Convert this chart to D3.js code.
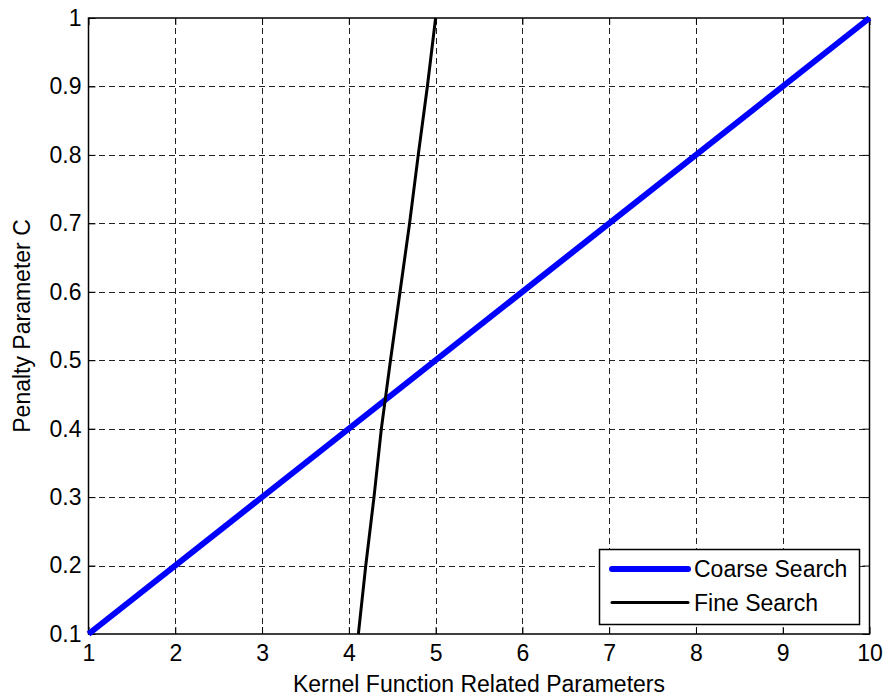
<!DOCTYPE html>
<html>
<head>
<meta charset="utf-8">
<script src="https://d3js.org/d3.v7.min.js"></script>
<style>
  html, body { margin: 0; padding: 0; background: #fff; }
  svg { display: block; }
  text { font-family: "Liberation Sans", Arial, sans-serif; fill: #000; }
</style>
</head>
<body>
<script>
// Grid-search path data
const coarseX = [1, 10];
const coarseY = [0.1, 1];
const fineX = [4.11, 4.195, 4.29, 4.375, 4.48, 4.59, 4.70, 4.80, 4.905, 5.0];
const fineY = [0.1, 0.2, 0.3, 0.4, 0.5, 0.6, 0.7, 0.8, 0.9, 1.0];
const xTicks = [1, 2, 3, 4, 5, 6, 7, 8, 9, 10];
const yTicks = [0.1, 0.2, 0.3, 0.4, 0.5, 0.6, 0.7, 0.8, 0.9, 1];
const seriesNames = ["Coarse Search", "Fine Search"];
const xTitle = "Kernel Function Related Parameters";
const yTitle = "Penalty Parameter C";

const W = 884, H = 698;
const plotL = 88.5, plotR = 869.5, plotT = 18, plotB = 634;
const fs = 23;

const svg = d3.select("body").append("svg").attr("width", W).attr("height", H);

const x = d3.scaleLinear().domain([1, 10]).range([plotL, plotR]);
const y = d3.scaleLinear().domain([0.1, 1]).range([plotB, plotT]);

// dashed grid
const grid = svg.append("g").attr("stroke", "#222").attr("stroke-width", 1)
  .attr("stroke-dasharray", "6,4").attr("shape-rendering", "crispEdges");
grid.selectAll("line.gx").data(xTicks.slice(1, -1)).join("line")
  .attr("x1", d => Math.round(x(d)) + 0.5).attr("x2", d => Math.round(x(d)) + 0.5)
  .attr("y1", plotT).attr("y2", plotB);
grid.selectAll("line.gy").data(yTicks.slice(1, -1)).join("line")
  .attr("x1", plotL).attr("x2", plotR)
  .attr("y1", d => Math.round(y(d)) + 0.5).attr("y2", d => Math.round(y(d)) + 0.5);

// axes with inward ticks on all four sides
const tickLen = 7;
const fmtY = d => d === 1 ? "1" : d3.format(".1f")(d);
const axB = svg.append("g").attr("transform", `translate(0,${plotB})`)
  .call(d3.axisBottom(x).tickValues(xTicks).tickSizeInner(-tickLen).tickSizeOuter(0).tickPadding(13).tickFormat(d3.format("d")));
const axT = svg.append("g").attr("transform", `translate(0,${plotT})`)
  .call(d3.axisTop(x).tickValues(xTicks).tickSizeInner(-tickLen).tickSizeOuter(0).tickFormat(""));
const axL = svg.append("g").attr("transform", `translate(${plotL},0)`)
  .call(d3.axisLeft(y).tickValues(yTicks).tickSizeInner(-tickLen).tickSizeOuter(0).tickPadding(7).tickFormat(fmtY));
const axR = svg.append("g").attr("transform", `translate(${plotR},0)`)
  .call(d3.axisRight(y).tickValues(yTicks).tickSizeInner(-tickLen).tickSizeOuter(0).tickFormat(""));
[axB, axT, axL, axR].forEach(a => {
  a.select(".domain").remove();
  a.selectAll("line").attr("stroke", "#000").attr("stroke-width", 1);
  a.selectAll("text").attr("font-size", fs).attr("font-family", "Liberation Sans, Arial, sans-serif");
});
axB.selectAll("text").attr("dy", "0.6em");

// frame
svg.append("rect").attr("x", plotL).attr("y", plotT).attr("width", plotR - plotL).attr("height", plotB - plotT)
  .attr("fill", "none").attr("stroke", "#000").attr("stroke-width", 1.5);

// series
const line = d3.line().x(d => x(d[0])).y(d => y(d[1]));
svg.append("path").datum(d3.zip(coarseX, coarseY)).attr("d", line)
  .attr("fill", "none").attr("stroke", "#0000ff").attr("stroke-width", 6).attr("stroke-linejoin", "round");
svg.append("path").datum(d3.zip(fineX, fineY)).attr("d", line)
  .attr("fill", "none").attr("stroke", "#000").attr("stroke-width", 3).attr("stroke-linejoin", "round");

// axis titles
svg.append("text").attr("x", (plotL + plotR) / 2).attr("y", 692).attr("text-anchor", "middle")
  .attr("font-size", fs).text(xTitle);
svg.append("text").attr("transform", `translate(30,${(plotT + plotB) / 2}) rotate(-90)`)
  .attr("text-anchor", "middle").attr("font-size", fs).text(yTitle);

// legend
const lg = svg.append("g");
lg.append("rect").attr("x", 599.5).attr("y", 549.5).attr("width", 260).attr("height", 75)
  .attr("fill", "#fff").attr("stroke", "#000").attr("stroke-width", 1.5);
const legendStyles = [{ c: "#0000ff", w: 6 }, { c: "#000", w: 3 }];
seriesNames.forEach((name, i) => {
  const ly = 569 + i * 33.5;
  lg.append("line").attr("x1", 612).attr("x2", 688).attr("y1", ly).attr("y2", ly)
    .attr("stroke", legendStyles[i].c).attr("stroke-width", legendStyles[i].w).attr("stroke-linecap", "round");
  lg.append("text").attr("x", 694).attr("y", ly).attr("dy", "0.35em").attr("font-size", fs).text(name);
});
</script>
</body>
</html>
